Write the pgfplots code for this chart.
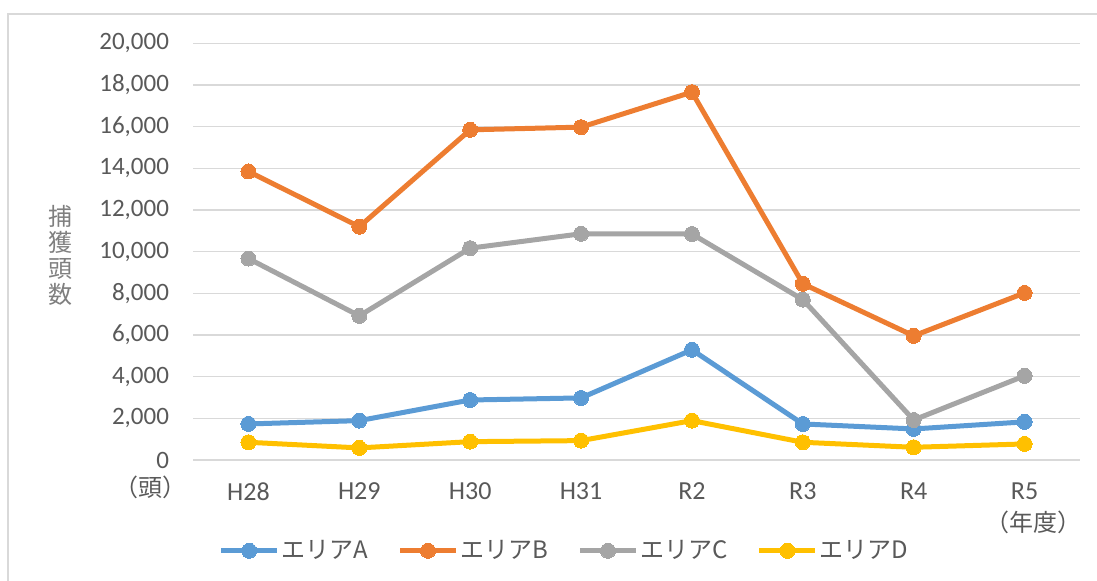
\documentclass[border=0pt]{standalone}
\usepackage{pgfplots}
\pgfplotsset{compat=1.18}
\usepackage{fontspec}
\setmainfont{Carlito}
\newfontfamily\cjk{Noto Sans CJK JP}
\definecolor{cA}{HTML}{5B9BD5}
\definecolor{cB}{HTML}{ED7D31}
\definecolor{cC}{HTML}{A5A5A5}
\definecolor{cD}{HTML}{FFC000}
\definecolor{gridc}{HTML}{D9D9D9}
\definecolor{txt}{HTML}{595959}
\definecolor{ylab}{HTML}{7F7F7F}
\begin{document}
\begin{tikzpicture}
\draw[gridc, line width=0.6pt] (4pt,0) -- (4pt,283.5pt) -- (548.5pt,283.5pt);
\begin{axis}[
  at={(96.5pt,60.5pt)}, anchor=south west,
  scale only axis, width=443.5pt, height=208.3pt,
  xmin=-0.5, xmax=7.5, ymin=0, ymax=20000,
  xtick=data, xticklabels={H28,H29,H30,H31,R2,R3,R4,R5},
  ytick distance=2000,
  ymajorgrids, grid style={gridc, line width=0.75pt},
  axis line style={draw=none}, tick style={draw=none},
  scaled y ticks=false,
  /pgf/number format/.cd, 1000 sep={,}, assume math mode=true,
  /pgfplots/.cd,
  ticklabel style={font=\fontsize{12.5pt}{14pt}\selectfont, text=txt},
  yticklabel style={xshift=-8.5pt},
  xticklabel style={yshift=-8pt, font=\fontsize{13pt}{14pt}\selectfont},
  every axis plot/.append style={line width=2.5pt, mark=*, mark size=3.75pt},
  legend style={at={(0.4185,-0.218)}, anchor=center, draw=none, fill=none,
    legend columns=4, font=\cjk\fontsize{12pt}{14pt}\selectfont, text=txt,
    nodes={inner sep=0.8pt},
    /tikz/every even column/.append style={column sep=14pt},
    inner sep=0pt},
  legend image code/.code={
    \draw[mark repeat=2, mark phase=2] plot coordinates {(0pt,0pt)(14pt,0pt)(28pt,0pt)};
  },
  clip=false,
]
\addplot[cA, mark options={fill=cA, draw=cA, line width=0pt}] coordinates {
 (0,1730) (1,1890) (2,2880) (3,2980) (4,5290) (5,1730) (6,1490) (7,1830)};
\addlegendentry{エリアA}
\addplot[cB, mark options={fill=cB, draw=cB, line width=0pt}] coordinates {
 (0,13850) (1,11200) (2,15850) (3,15980) (4,17660) (5,8460) (6,5960) (7,8020)};
\addlegendentry{エリアB}
\addplot[cC, mark options={fill=cC, draw=cC, line width=0pt}] coordinates {
 (0,9670) (1,6920) (2,10170) (3,10860) (4,10850) (5,7700) (6,1920) (7,4040)};
\addlegendentry{エリアC}
\addplot[cD, mark options={fill=cD, draw=cD, line width=0pt}] coordinates {
 (0,850) (1,580) (2,880) (3,930) (4,1890) (5,850) (6,610) (7,770)};
\addlegendentry{エリアD}
\end{axis}
\node[text=ylab, font=\cjk\fontsize{12pt}{13pt}\selectfont, align=center, inner sep=0pt] at (30pt,163pt) {捕\\獲\\頭\\数};
\node[text=txt, font=\cjk\fontsize{12pt}{14pt}\selectfont, inner sep=0pt] at (75pt,47pt) {（頭）};
\node[text=txt, font=\cjk\fontsize{12pt}{14pt}\selectfont, inner sep=0pt] at (516.5pt,29.5pt) {（年度）};
\pgfresetboundingbox
\path[use as bounding box] (0,0) rectangle (548.5pt,290.5pt);
\end{tikzpicture}
\end{document}
